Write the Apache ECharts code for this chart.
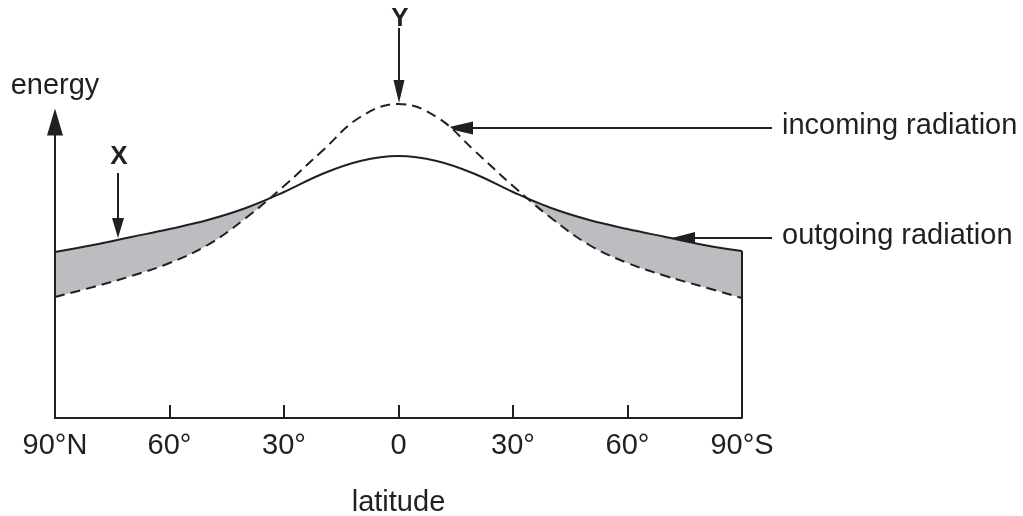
<!DOCTYPE html>
<html>
<head>
<meta charset="utf-8">
<script src="https://cdn.jsdelivr.net/npm/echarts@6/dist/echarts.min.js"></script>
<style>
  html, body { margin: 0; padding: 0; background: #fff; }
  #chart { width: 1023px; height: 516px; }
</style>
</head>
<body>
<div id="chart"></div>
<script>
const lats = [-90, -80, -70, -60, -50, -40, -30, -20, -10, 0, 10, 20, 30, 40, 50, 60, 70, 80, 90]
const latLabels = ['90°N', '60°', '30°', '0', '30°', '60°', '90°S']
const outgoing = [166, 173, 181, 189, 198, 210, 226, 244, 257, 262, 257, 244, 226, 210, 198, 189, 181, 173, 167]
const incoming = [121, 131, 142, 155, 173, 200, 232, 267, 301, 314, 301, 267, 232, 200, 173, 155, 142, 131, 120]

const ink = '#231f20'
const font = "'Liberation Sans', Arial, Helvetica, sans-serif"
const pairs = arr => lats.map((lat, i) => [lat, arr[i]])

const chart = echarts.init(document.getElementById('chart'))

function arrow(x1, y1, x2, y2, headLen, headW) {
  // line from (x1,y1) to tip (x2,y2)
  const dx = x2 - x1, dy = y2 - y1
  const len = Math.sqrt(dx * dx + dy * dy)
  const ux = dx / len, uy = dy / len
  const bx = x2 - ux * headLen, by = y2 - uy * headLen
  return [
    { type: 'line', shape: { x1, y1, x2: bx, y2: by }, style: { stroke: ink, lineWidth: 2 } },
    {
      type: 'polygon',
      shape: { points: [[x2, y2], [bx - uy * headW / 2, by + ux * headW / 2], [bx + uy * headW / 2, by - ux * headW / 2]] },
      style: { fill: ink },
    },
  ]
}

function label(text, x, y, opts = {}) {
  return {
    type: 'text',
    x, y,
    style: {
      text,
      fill: ink,
      font: (opts.bold ? 'bold ' : '') + (opts.size || 29) + 'px ' + font,
      align: opts.align || 'center',
      verticalAlign: 'middle',
    },
  }
}

chart.setOption({
  animation: false,
  backgroundColor: '#fff',
  grid: { left: 55, right: 281, top: 122, bottom: 98, containLabel: false, outerBoundsMode: 'none' },
  xAxis: {
    type: 'value',
    min: -90,
    max: 90,
    interval: 30,
    z: 5,
    name: 'latitude',
    nameLocation: 'middle',
    nameGap: 70,
    nameTextStyle: { color: ink, fontSize: 29, fontFamily: font },
    axisLine: { lineStyle: { color: ink, width: 2 } },
    axisTick: { inside: true, length: 13, lineStyle: { color: ink, width: 2 } },
    axisLabel: {
      color: ink, fontSize: 29, fontFamily: font, margin: 13,
      showMinLabel: true, showMaxLabel: true,
      formatter: v => latLabels[Math.round((v + 90) / 30)],
    },
    splitLine: { show: false },
  },
  yAxis: {
    type: 'value',
    min: 0,
    max: 296,
    z: 5,
    name: 'energy',
    nameLocation: 'end',
    nameGap: 22,
    nameTextStyle: { color: ink, fontSize: 29, fontFamily: font },
    axisLine: {
      show: true,
      onZero: false,
      symbol: ['none', 'triangle'],
      symbolSize: [16, 27],
      lineStyle: { color: ink, width: 2 },
    },
    axisTick: { show: false },
    axisLabel: { show: false },
    splitLine: { show: false },
  },
  series: [
    {
      name: 'deficit-fill',
      type: 'line',
      data: pairs(outgoing),
      smooth: 0.4,
      clip: false,
      showSymbol: false,
      silent: true,
      z: 1,
      lineStyle: { width: 0 },
      areaStyle: { color: '#bcbdc0', opacity: 1 },
    },
    {
      name: 'mask',
      type: 'line',
      data: pairs(incoming),
      smooth: 0.4,
      clip: false,
      showSymbol: false,
      silent: true,
      z: 1,
      lineStyle: { width: 0 },
      areaStyle: { color: '#fff', opacity: 1 },
    },
    {
      name: 'incoming radiation',
      type: 'line',
      data: pairs(incoming),
      smooth: 0.4,
      clip: false,
      showSymbol: false,
      z: 3,
      lineStyle: { color: ink, width: 2, type: [10, 6] },
    },
    {
      name: 'outgoing radiation',
      type: 'line',
      data: pairs(outgoing),
      smooth: 0.4,
      clip: false,
      showSymbol: false,
      z: 3,
      lineStyle: { color: ink, width: 2 },
      markLine: {
        silent: true,
        symbol: ['none', 'none'],
        label: { show: false },
        lineStyle: { color: ink, width: 2, type: 'solid' },
        data: [[
          { coord: [lats[lats.length - 1], 0] },
          { coord: [lats[lats.length - 1], outgoing[outgoing.length - 1]] },
        ]],
      },
    },
  ],
  graphic: [
    label('Y', 400, 19, { bold: true, size: 26 }),
    ...arrow(399, 28, 399, 103, 23, 11),
    label('X', 119, 157, { bold: true, size: 26 }),
    ...arrow(118, 173, 118, 238, 20, 12),
    label('surplus', 398.5, 136.5),
    label('deficit', 101.5, 265.5),
    label('deficit', 693.5, 263.5),
    ...arrow(772, 128, 445, 128, 28, 13),
    label('incoming radiation', 782, 125.5, { align: 'left' }),
    ...arrow(772, 238, 672, 238, 23, 12),
    label('outgoing radiation', 782, 235.5, { align: 'left' }),
  ],
})
</script>
</body>
</html>
